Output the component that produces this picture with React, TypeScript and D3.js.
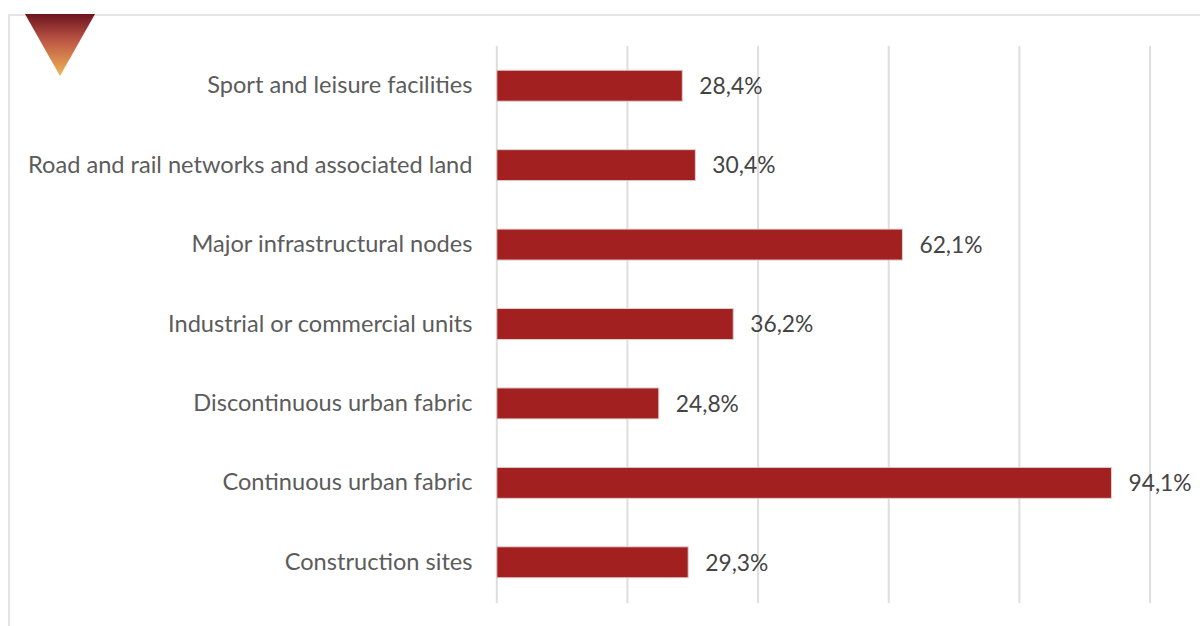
import React from "react";
import * as d3 from "d3";

const categories = [
  "Sport and leisure facilities",
  "Road and rail networks and associated land",
  "Major infrastructural nodes",
  "Industrial or commercial units",
  "Discontinuous urban fabric",
  "Continuous urban fabric",
  "Construction sites",
];
const values = [28.4, 30.4, 62.1, 36.2, 24.8, 94.1, 29.3];
const valueLabels = ["28,4%", "30,4%", "62,1%", "36,2%", "24,8%", "94,1%", "29,3%"];
const gridTicks = [0, 20, 40, 60, 80, 100];

const FONT = "Lato, Carlito, sans-serif";

export default function App() {
  const x = d3.scaleLinear().domain([0, 100]).range([496.8, 1150]);
  const y = d3.scaleBand().domain(categories).range([46, 602]).paddingInner(0.61).paddingOuter(0.305);
  const tri = d3.line()([[25, 14], [95, 14], [60, 76]]) + "Z";
  return (
    <svg width={1200} height={626} style={{ position: "absolute", left: 0, top: 0, background: "#fff" }}>
      <defs>
        <linearGradient id="tri" x1="0" y1="0" x2="0" y2="1">
          <stop offset="0" stopColor="#6e1420" />
          <stop offset="0.45" stopColor="#bf5a47" />
          <stop offset="1" stopColor="#f0b655" />
        </linearGradient>
      </defs>
      <path d="M9 626V15H1200" fill="none" stroke="#e4e4e4" strokeWidth={2} />
      <path d={tri} fill="url(#tri)" />
      {gridTicks.map((t) => (
        <line key={t} x1={x(t)} x2={x(t)} y1={46} y2={603} stroke="#dedede" strokeWidth={2} />
      ))}
      {categories.map((c, i) => {
        const by = y(c) as number;
        const h = y.bandwidth();
        const cy = by + h / 2;
        return (
          <g key={c}>
            <rect x={x(0)} y={by} width={x(values[i]) - x(0)} height={h} fill="#a32020" stroke="#ddd0d0" strokeWidth={1} />
            <text x={472.5} y={cy} dy="0.32em" textAnchor="end" fontFamily={FONT} fontSize={23.6} fill="#5c5c5c">{c}</text>
            <text x={x(values[i]) + 17} y={cy + 1} dy="0.32em" fontFamily={FONT} fontSize={22.8} fill="#444444">{valueLabels[i]}</text>
          </g>
        );
      })}
    </svg>
  );
}
